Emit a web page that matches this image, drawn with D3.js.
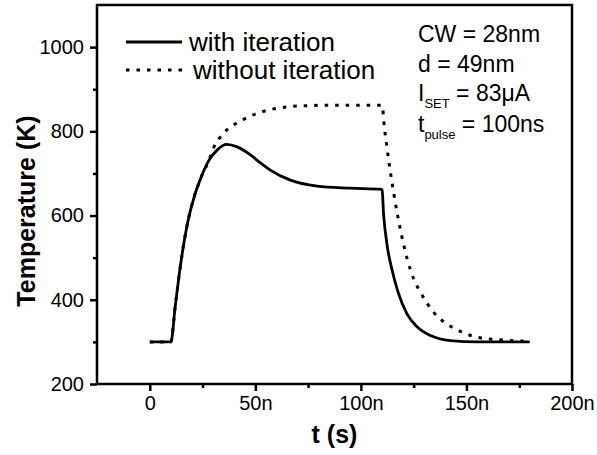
<!DOCTYPE html>
<html>
<head>
<meta charset="utf-8">
<script src="https://cdn.jsdelivr.net/npm/d3@7"></script>
<style>
  body { margin: 0; background: #fff; }
  text { font-family: "Liberation Sans", Arial, sans-serif; fill: #000; }
</style>
</head>
<body>
<svg id="chart" width="597" height="455"></svg>
<script>
// time in ns, temperature in K
var tWith = [0, 10, 12, 14, 16, 18, 21, 24, 28, 32, 36.3, 41.4, 47.7, 52.4, 57.1, 66.6, 79.3, 95, 110,
  110.8, 112.4, 114.8, 117.5, 121.9, 126.6, 133, 142.4, 155, 180];
var tempWith = [300, 300, 382, 462, 530, 585, 644, 687, 731, 756, 769, 763, 744, 725, 708, 684, 670, 665, 662,
  600, 530, 470, 420, 366, 336, 315, 303, 300, 300];

var tWithout = [0, 10, 12, 14, 16, 18, 21, 24, 28, 30.3, 33.5, 36.6, 40.6, 45.3, 50, 54.8, 59.5, 69.8, 85.6, 110,
  111.2, 112.4, 113.2, 114, 114.8, 115.6, 117.4, 119.5, 121.9, 125, 128.2, 131.3, 134.5, 140, 145.5, 155, 166, 180];
var tempWithout = [300, 300, 382, 462, 530, 585, 644, 687, 731, 762, 787, 804, 818, 831, 841, 849, 854, 860, 862, 862,
  806, 760, 730, 702, 677, 652, 600, 548, 497, 450, 418, 392, 370, 345, 329, 311, 305, 301];

var xTicks = [0, 50e-9, 100e-9, 150e-9, 200e-9];
var xMinor = [25e-9, 75e-9, 125e-9, 175e-9];
var yTicks = [200, 400, 600, 800, 1000];
var yMinor = [300, 500, 700, 900];

var seriesNames = ["with iteration", "without iteration"];
var notes = ["CW = 28nm", "d = 49nm", "I|SET| = 83\u03bcA", "t|pulse| = 100ns"];

var svg = d3.select("#chart"),
  margin = {top: 5, right: 25, bottom: 71, left: 97},
  width = +svg.attr("width") - margin.left - margin.right,
  height = +svg.attr("height") - margin.top - margin.bottom,
  g = svg.append("g").attr("transform", "translate(" + margin.left + "," + margin.top + ")");

var x = d3.scaleLinear().domain([-25e-9, 200e-9]).range([0, width]);
var y = d3.scaleLinear().domain([200, 1100]).range([height, 0]);

// axes
g.append("g")
  .attr("transform", "translate(0," + height + ")")
  .call(d3.axisBottom(x).tickValues(xTicks).tickFormat(d3.format("~s")).tickSize(7).tickPadding(5));
g.append("g")
  .attr("transform", "translate(0," + height + ")")
  .call(d3.axisBottom(x).tickValues(xMinor).tickFormat("").tickSize(4));

g.append("g")
  .call(d3.axisLeft(y).tickValues(yTicks).tickFormat(d3.format("d")).tickSize(7).tickPadding(6));
g.append("g")
  .call(d3.axisLeft(y).tickValues(yMinor).tickFormat("").tickSize(4));

g.selectAll(".domain").remove();
g.selectAll(".tick line").attr("stroke", "#000").attr("stroke-width", 2.5);
g.selectAll(".tick text").style("font-size", "20px").attr("fill", "#000");

// frame
g.append("rect")
  .attr("width", width)
  .attr("height", height)
  .attr("fill", "none")
  .attr("stroke", "#000")
  .attr("stroke-width", 2.5);

// lines
var line = d3.line()
  .x(function(d) { return x(d[0] * 1e-9); })
  .y(function(d) { return y(d[1]); })
  .curve(d3.curveMonotoneX);

g.append("path")
  .datum(d3.zip(tWithout, tempWithout))
  .attr("d", line)
  .attr("fill", "none")
  .attr("stroke", "#000")
  .attr("stroke-width", 3)
  .attr("stroke-dasharray", "3.5,7");

g.append("path")
  .datum(d3.zip(tWith, tempWith))
  .attr("d", line)
  .attr("fill", "none")
  .attr("stroke", "#000")
  .attr("stroke-width", 2.8);

// axis titles
svg.append("text")
  .attr("x", margin.left + width / 2)
  .attr("y", 443)
  .attr("text-anchor", "middle")
  .style("font-size", "25px")
  .style("font-weight", "bold")
  .text("t (s)");

svg.append("text")
  .attr("transform", "translate(35,211) rotate(-90)")
  .attr("text-anchor", "middle")
  .style("font-size", "25px")
  .style("font-weight", "bold")
  .text("Temperature (K)");

// legend
var legend = svg.append("g");
var legY = [42, 70];
legend.selectAll("line")
  .data(seriesNames)
  .enter().append("line")
  .attr("x1", 126).attr("x2", 182)
  .attr("y1", function(d, i) { return legY[i]; })
  .attr("y2", function(d, i) { return legY[i]; })
  .attr("stroke", "#000")
  .attr("stroke-width", function(d, i) { return i ? 3 : 2.8; })
  .attr("stroke-dasharray", function(d, i) { return i ? "3.5,7" : null; });

legend.selectAll("text")
  .data(seriesNames)
  .enter().append("text")
  .attr("x", function(d, i) { return i ? 193 : 189; })
  .attr("y", function(d, i) { return legY[i] + 9; })
  .style("font-size", "26px")
  .text(function(d) { return d; });

// annotation
var noteY = [42, 72, 101, 132];
notes.forEach(function(n, i) {
  var parts = n.split("|");
  var t = svg.append("text")
    .attr("x", 418)
    .attr("y", noteY[i])
    .style("font-size", "23px");
  t.append("tspan").text(parts[0]);
  if (parts.length > 1) {
    t.append("tspan").attr("dy", 7).style("font-size", "13px").text(parts[1]);
    t.append("tspan").attr("dy", -7).text(parts[2]);
  }
});
</script>
</body>
</html>
